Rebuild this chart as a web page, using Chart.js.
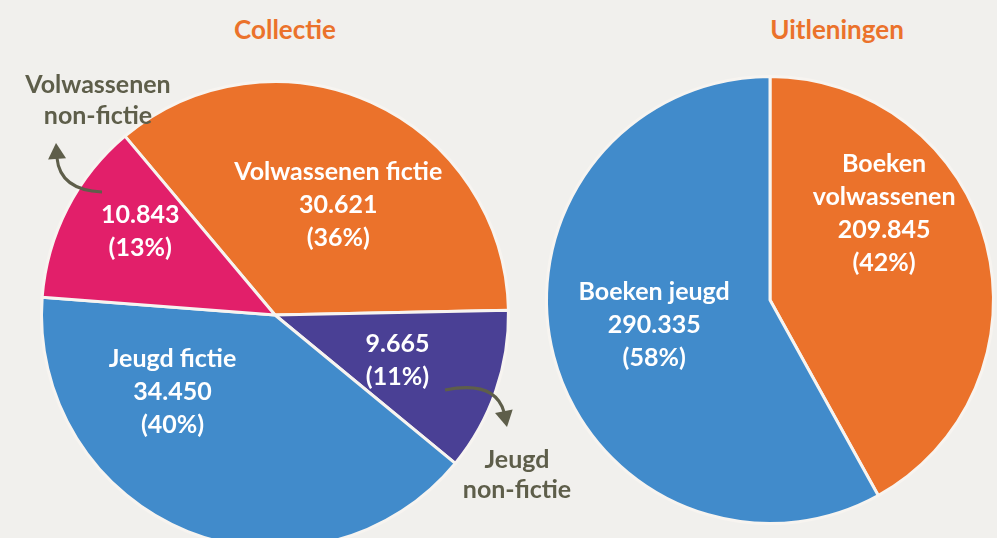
<!DOCTYPE html>
<html><head><meta charset="utf-8">
<script src="https://cdn.jsdelivr.net/npm/chart.js@4"></script>
<style>
html,body{margin:0;padding:0;background:#F1F0ED;width:997px;height:538px;overflow:hidden;font-family:Lato,sans-serif;}
.title{position:absolute;top:13px;font-weight:bold;font-size:26px;font-family:Lato,sans-serif;color:#EB722B;text-align:center;width:300px}
#w1{position:absolute;left:0;top:0;width:620px;height:560px;z-index:2}
#w2{position:absolute;left:520px;top:0;width:477px;height:560px;z-index:1}
</style></head><body>
<div class="title" style="left:135px">Collectie</div>
<div class="title" style="left:687px">Uitleningen</div>
<div id="w1"><canvas id="c1"></canvas></div>
<div id="w2"><canvas id="c2"></canvas></div>
<script>
// ---- data ----
const collectieCategories = ['Volwassenen fictie', 'Jeugd non-fictie', 'Jeugd fictie', 'Volwassenen non-fictie'];
const collectieValues = [30621, 9665, 34450, 10843];
const collectieInsideNames = [['Volwassenen fictie'], [], ['Jeugd fictie'], []];
const uitleningenCategories = ['Boeken volwassenen', 'Boeken jeugd'];
const uitleningenValues = [209845, 290335];
const uitleningenInsideNames = [['Boeken', 'volwassenen'], ['Boeken jeugd']];

// ---- styles ----
const ORANGE = '#EB722B', PINK = '#E21F6A', PURPLE = '#4A4095', BLUE = '#418BCB';
const NOTE = '#5E5E4A';
const FONT = 'bold 25px Lato, sans-serif';

function fmt(v){ return String(v).replace(/\B(?=(\d{3})+(?!\d))/g, '.'); }

// label placement: [angle shift in degrees, fraction of radius]
function labelPlugin(names, place){
  return {
    id: 'sliceLabels',
    afterDatasetsDraw(chart){
      const ctx = chart.ctx;
      const ds = chart.data.datasets[0].data;
      const total = ds.reduce((a,b)=>a+b,0);
      const meta = chart.getDatasetMeta(0);
      ctx.save();
      ctx.font = FONT;
      ctx.fillStyle = '#FFFFFF';
      ctx.textAlign = 'center';
      ctx.textBaseline = 'middle';
      meta.data.forEach((arc, i) => {
        const p = arc.getProps(['x','y','startAngle','endAngle','outerRadius'], true);
        const mid = (p.startAngle + p.endAngle)/2 + place[i][0]*Math.PI/180;
        const r = p.outerRadius * place[i][1];
        const x = p.x + Math.cos(mid)*r, y = p.y + Math.sin(mid)*r;
        const lines = names[i].concat([fmt(ds[i]), '(' + Math.round(ds[i]/total*100) + '%)']);
        const lh = 33;
        lines.forEach((t, k) => ctx.fillText(t, x, y + (k - (lines.length-1)/2)*lh));
      });
      ctx.restore();
    }
  };
}

function arrow(ctx, x0, y0, cx, cy, x1, y1, tx, ty){
  ctx.beginPath();
  ctx.moveTo(x0, y0);
  ctx.quadraticCurveTo(cx, cy, x1, y1);
  ctx.stroke();
  const ang = Math.atan2(ty - y1, tx - x1);
  const L = 16, W = 9;
  ctx.beginPath();
  ctx.moveTo(tx, ty);
  ctx.lineTo(tx - Math.cos(ang)*L - Math.sin(ang)*W, ty - Math.sin(ang)*L + Math.cos(ang)*W);
  ctx.lineTo(tx - Math.cos(ang)*L + Math.sin(ang)*W, ty - Math.sin(ang)*L - Math.cos(ang)*W);
  ctx.closePath();
  ctx.fill();
}

const notesPlugin = {
  id: 'notes',
  afterDraw(chart){
    const ctx = chart.ctx;
    const meta = chart.getDatasetMeta(0);
    const c = meta.data[0].getProps(['x','y'], true);
    const ox = c.x, oy = c.y;
    ctx.save();
    ctx.fillStyle = NOTE; ctx.strokeStyle = NOTE; ctx.lineWidth = 3;
    ctx.font = FONT; ctx.textAlign = 'center'; ctx.textBaseline = 'middle';
    // Volwassenen non-fictie (index 3)
    ctx.fillText(collectieCategories[3].split(' ')[0], ox - 177, oy - 230);
    ctx.fillText(collectieCategories[3].split(' ')[1], ox - 177, oy - 199);
    arrow(ctx, ox-173, oy-123, ox-215, oy-125, ox-218, oy-157, ox-219, oy-172);
    // Jeugd non-fictie (index 1)
    ctx.fillText(collectieCategories[1].split(' ')[0], ox + 242, oy + 145);
    ctx.fillText(collectieCategories[1].split(' ')[1], ox + 242, oy + 175);
    arrow(ctx, ox+170, oy+75, ox+220, oy+65, ox+229, oy+97, ox+232, oy+112);
    ctx.restore();
  }
};

const common = {
  responsive: true,
  maintainAspectRatio: false,
  animation: false,
  events: [],
  plugins: { legend: {display:false}, tooltip: {enabled:false}, title: {display:false} }
};

new Chart(document.getElementById('c1'), {
  type: 'pie',
  data: { labels: collectieCategories, datasets: [{
    data: collectieValues,
    backgroundColor: [ORANGE, PURPLE, BLUE, PINK],
    borderColor: '#F7F4F0', borderWidth: 3
  }]},
  options: Object.assign({}, common, {
    rotation: -40,
    layout: { padding: { left: 40, right: 110, top: 80, bottom: 10 } }
  }),
  plugins: [labelPlugin(collectieInsideNames, [[5.4,0.545],[1.4,0.56],[31,0.55],[4.7,0.68]]), notesPlugin]
});

new Chart(document.getElementById('c2'), {
  type: 'pie',
  data: { labels: uitleningenCategories, datasets: [{
    data: uitleningenValues,
    backgroundColor: [ORANGE, BLUE],
    borderColor: '#F7F4F0', borderWidth: 3
  }]},
  options: Object.assign({}, common, {
    rotation: 0,
    layout: { padding: { left: 25, right: 2, top: 75, bottom: 35 } }
  }),
  plugins: [labelPlugin(uitleningenInsideNames, [[-22.6,0.64],[2.4,0.53]])]
});
</script>
</body></html>
